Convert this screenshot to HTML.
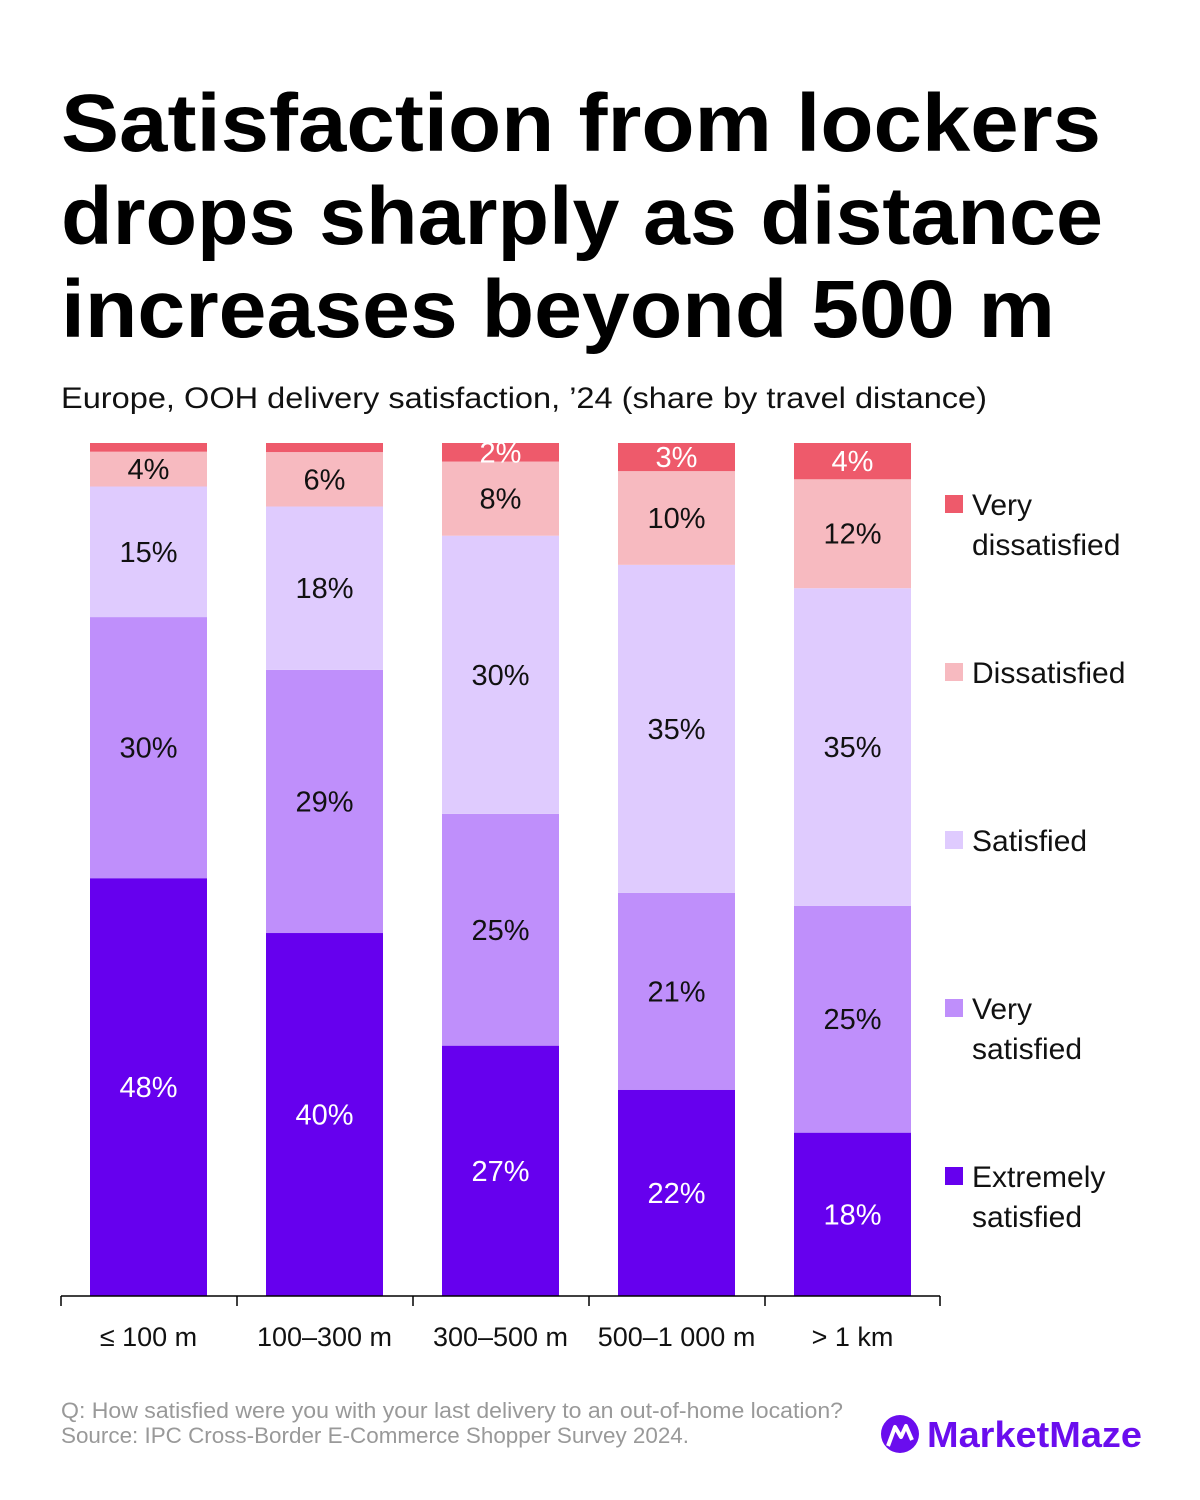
<!DOCTYPE html>
<html><head><meta charset="utf-8"><style>
html,body{margin:0;padding:0;background:#fff;}
svg{display:block;font-family:"Liberation Sans",sans-serif;}
</style></head><body>
<svg id="c" width="1200" height="1500" viewBox="0 0 1200 1500">
<g font-weight="bold" font-size="82" fill="#000">
<text x="61" y="151" textLength="1040" lengthAdjust="spacingAndGlyphs">Satisfaction from lockers</text>
<text x="61" y="244" textLength="1042" lengthAdjust="spacingAndGlyphs">drops sharply as distance</text>
<text x="61" y="337" textLength="994" lengthAdjust="spacingAndGlyphs">increases beyond 500 m</text>
</g>
<text x="61" y="408" font-size="30" fill="#111" textLength="926" lengthAdjust="spacingAndGlyphs">Europe, OOH delivery satisfaction, ’24 (share by travel distance)</text>
<g id="bars"></g>
<g id="axis"></g>
<g id="legend"></g>
<g font-size="22" fill="#999">
<text x="61" y="1418" textLength="782" lengthAdjust="spacingAndGlyphs">Q: How satisfied were you with your last delivery to an out-of-home location?</text>
<text x="61" y="1443" textLength="628" lengthAdjust="spacingAndGlyphs">Source: IPC Cross-Border E-Commerce Shopper Survey 2024.</text>
</g>
<g>
<circle cx="900" cy="1434" r="19" fill="#6A0DEE"/>
<polyline points="888,1446 895,1427 901,1437 906,1426 912,1440" fill="none" stroke="#fff" stroke-width="4" stroke-linejoin="round"/>
<text x="927" y="1447" font-size="36" font-weight="bold" fill="#6A0DEE" textLength="215" lengthAdjust="spacingAndGlyphs">MarketMaze</text>
</g>
</svg>
<script>
const categories = ["≤ 100 m","100–300 m","300–500 m","500–1 000 m","> 1 km"];
const seriesNames = ["Extremely satisfied","Very satisfied","Satisfied","Dissatisfied","Very dissatisfied"];
const extremelySatisfied = [48,40,27,22,18];
const verySatisfied = [30,29,25,21,25];
const satisfied = [15,18,30,35,35];
const dissatisfied = [4,6,8,10,12];
const veryDissatisfied = [1,1,2,3,4];
const showLabel = [[true,true,true,true,false],[true,true,true,true,false],[true,true,true,true,true],[true,true,true,true,true],[true,true,true,true,true]];

const colors = ["#6600EE","#BF8FFB","#DFCBFE","#F7BAC0","#EE5A6B"];
const textColors = ["#fff","#111","#111","#111","#fff"];
const NS="http://www.w3.org/2000/svg";
const series=[extremelySatisfied,verySatisfied,satisfied,dissatisfied,veryDissatisfied];
const plotTop=443, plotBase=1296, x0=61, step=176, bw=117;
function xPos(i){return x0+step*i+29;}
function el(t,a,p){const e=document.createElementNS(NS,t);for(const k in a)e.setAttribute(k,a[k]);p.appendChild(e);return e;}
const gb=document.getElementById('bars');
categories.forEach((c,i)=>{
  let tot=0; series.forEach(s=>tot+=s[i]);
  const sc=(plotBase-plotTop)/tot;
  let y=plotBase;
  series.forEach((s,j)=>{
    const h=s[i]*sc; y-=h;
    const r=el('rect',{x:xPos(i),y:y,width:bw,height:h,fill:colors[j]},gb);
    
    
    if(showLabel[i][j]){
      const t=el('text',{x:xPos(i)+bw/2,y:y+h/2+10,'text-anchor':'middle','font-size':29,fill:textColors[j]},gb);
      t.textContent=s[i]+'%';
      
      
    }
  });
});
const ga=document.getElementById('axis');
el('line',{x1:61,y1:plotBase,x2:940,y2:plotBase,stroke:'#000','stroke-width':1.5},ga);
for(let i=0;i<=categories.length;i++){const xx=x0+step*i-(i==5?1:0);el('line',{x1:xx,y1:plotBase,x2:xx,y2:plotBase+10,stroke:'#000','stroke-width':1.5},ga);}
categories.forEach((c,i)=>{
  const t=el('text',{x:xPos(i)+bw/2,y:1346,'text-anchor':'middle','font-size':27,fill:'#111'},ga);
  t.textContent=c;
  
  
});
const gl=document.getElementById('legend');
const legendLines=[["Extremely","satisfied"],["Very","satisfied"],["Satisfied"],["Dissatisfied"],["Very","dissatisfied"]];
const legendY=[1176,1008,840,672,504];
legendLines.forEach((lines,j)=>{
  const g=el('g',{},gl);
  
  
  el('rect',{x:945,y:legendY[j]-9,width:18,height:18,fill:colors[j]},g);
  lines.forEach((l,k)=>{const t=el('text',{x:972,y:legendY[j]+11+k*40,'font-size':30,fill:'#111'},g);t.textContent=l;});
});
</script>
</body></html>
